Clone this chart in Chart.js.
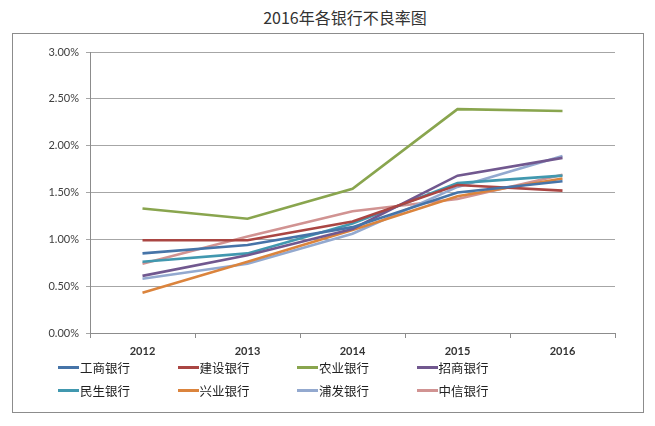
<!DOCTYPE html>
<html>
<head>
<meta charset="utf-8">
<script src="https://cdn.jsdelivr.net/npm/chart.js@4.4.1/dist/chart.umd.min.js"></script>
<style>
    html, body { margin: 0; padding: 0; background: #fff; }
    body { width: 655px; height: 426px; position: relative; overflow: hidden; font-family: "Noto Sans CJK SC", sans-serif; }
    #title { position: absolute; left: 0; width: 690px; top: 5px; text-align: center; font-size: 16px; color: #333; }
    #box { position: absolute; left: 12px; top: 33px; width: 630px; height: 378px; border: 1px solid #8c8c8c; }
    #wrap { position: absolute; left: 12px; top: 33px; width: 631px; height: 379px; }
    #legend { position: absolute; left: 58px; top: 358px; width: 480px; display: grid; grid-template-columns: repeat(4, 119.5px); row-gap: 5px; }
    .item { display: flex; align-items: center; height: 18px; font-size: 12.5px; color: #222; }
    .swatch { width: 21px; height: 3px; margin-right: 1px; }
</style>
</head>
<body>
<div id="title">2016年各银行不良率图</div>
<div id="box"></div>
<div id="wrap"><canvas id="lineCanvasChart" width="631" height="379"></canvas></div>
<div id="legend"></div>
<script>
    const years = ["2012", "2013", "2014", "2015", "2016"];
    const banks = ["工商银行", "建设银行", "农业银行", "招商银行", "民生银行", "兴业银行", "浦发银行", "中信银行"];

    // NPL ratio, %
    const icbc = [0.85, 0.94, 1.13, 1.50, 1.62];
    const ccb = [0.99, 0.99, 1.19, 1.58, 1.52];
    const abc = [1.33, 1.22, 1.54, 2.39, 2.37];
    const cmb = [0.61, 0.83, 1.11, 1.68, 1.87];
    const cmbc = [0.76, 0.85, 1.17, 1.60, 1.68];
    const cib = [0.43, 0.76, 1.10, 1.46, 1.65];
    const spdb = [0.58, 0.74, 1.06, 1.56, 1.89];
    const citic = [0.74, 1.03, 1.30, 1.43, 1.69];
    const yTicks = [0, 0.5, 1, 1.5, 2, 2.5, 3];

    const seriesData = [icbc, ccb, abc, cmb, cmbc, cib, spdb, citic];
    const colors = ["#4674A8", "#AA4643", "#89A54E", "#71588F", "#4198AF", "#DB843D", "#93A9CF", "#D19392"];

    const ctx = document.getElementById("lineCanvasChart").getContext("2d");

    new Chart(ctx, {
        type: "line",
        data: {
            labels: years,
            datasets: banks.map((name, i) => ({
                label: name,
                data: seriesData[i],
                borderColor: colors[i],
                backgroundColor: colors[i],
                borderWidth: 2.6,
                pointRadius: 0,
                tension: 0,
                fill: false,
            })),
        },
        options: {
            responsive: false,
            animation: false,
            layout: { padding: { left: 0, right: 28, top: 19, bottom: 0 } },
            plugins: {
                legend: { display: false },
                tooltip: { enabled: false },
            },
            scales: {
                x: {
                    offset: true,
                    afterFit: (axis) => { axis.height = 79; },
                    border: { color: "#8c8c8c", width: 1 },
                    grid: { offset: true, drawOnChartArea: false, drawTicks: true, tickLength: 5, color: "#8c8c8c" },
                    ticks: { padding: 7, color: "#333", font: { family: "Lato", size: 11, weight: "bold" } },
                },
                y: {
                    min: 0,
                    max: 3,
                    afterFit: (axis) => { axis.width = 78; },
                    afterBuildTicks: (axis) => { axis.ticks = yTicks.map((v) => ({ value: v })); },
                    border: { color: "#8c8c8c", width: 1 },
                    grid: { color: "#a6a6a6", lineWidth: 1, tickLength: 4 },
                    ticks: {
                        padding: 7,
                        color: "#404040",
                        font: { family: "Lato", size: 11 },
                        callback: (v) => v.toFixed(2) + "%",
                    },
                },
            },
        },
    });

    // Legend below the chart, 4 per row
    const legendContainer = document.getElementById("legend");
    banks.forEach((name, i) => {
        const item = document.createElement("div");
        item.className = "item";
        const swatch = document.createElement("span");
        swatch.className = "swatch";
        swatch.style.background = colors[i];
        item.appendChild(swatch);
        item.appendChild(document.createTextNode(name));
        legendContainer.appendChild(item);
    });
</script>
</body>
</html>
